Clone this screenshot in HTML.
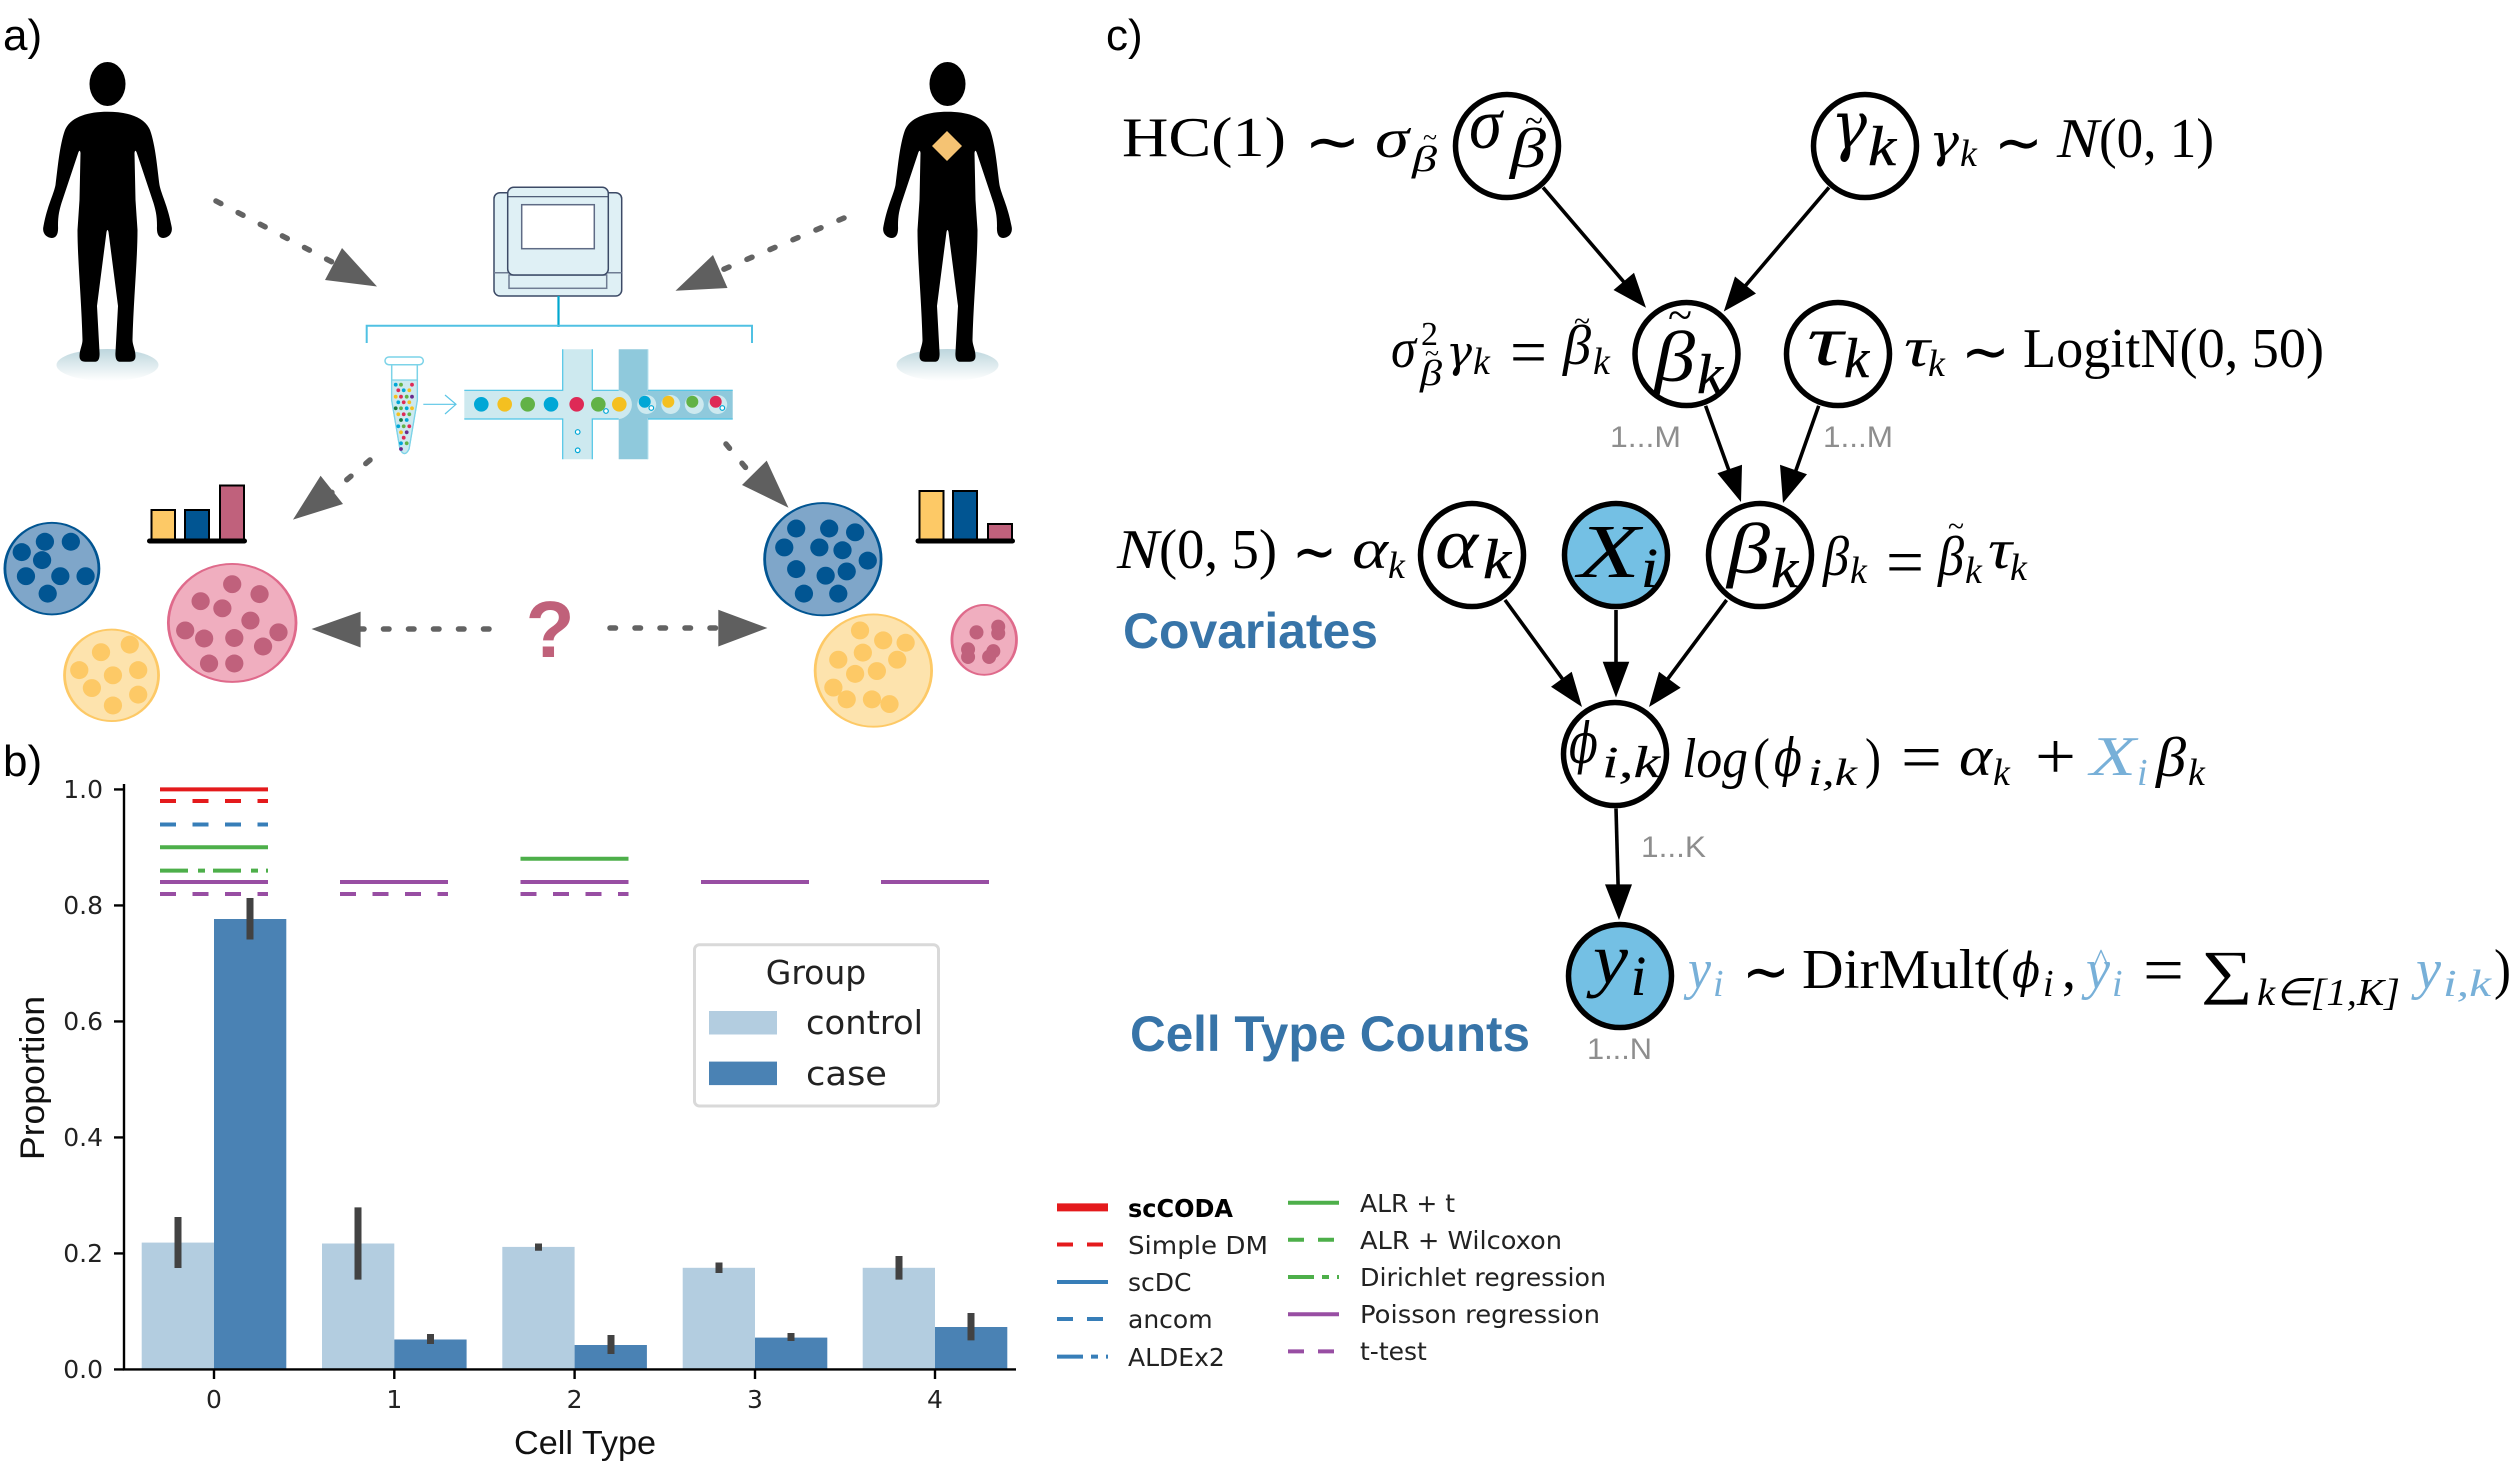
<!DOCTYPE html>
<html><head><meta charset="utf-8"><title>scCODA</title>
<style>
html,body{margin:0;padding:0;background:#fff;width:2520px;height:1475px;overflow:hidden}
svg{display:block}
text{fill:#000;white-space:pre}
.h{font-family:"Liberation Sans",sans-serif;font-size:44px}
.d{font-family:"DejaVu Sans",sans-serif;font-size:25px;fill:#222}
.m{font-family:"Liberation Serif",serif;font-size:56px}
.i{font-family:"Liberation Serif",serif;font-style:italic;font-size:56px}
.s{font-family:"Liberation Serif",serif;font-style:italic;font-size:38px}
.n{font-family:"Liberation Serif",serif;font-style:italic;font-size:72px}
.ns{font-family:"Liberation Serif",serif;font-style:italic;font-size:56px;stroke:#000;stroke-width:.5}
.dv{font-family:"DejaVu Serif","Liberation Serif",serif;font-style:italic}
.op{font-family:"DejaVu Sans",sans-serif;font-size:60px}
.eq{font-family:"Liberation Serif",serif;font-size:66px}
.g{font-family:"Liberation Sans",sans-serif;font-size:30px;fill:#8e8e8e}
.t{font-family:"Liberation Sans",sans-serif;font-weight:bold;font-size:50px;fill:#3774a8}
.nd{stroke:#000;stroke-width:5.5;fill:#fff}
.ar line{stroke:#000;stroke-width:3.6}
.lk{stroke:#636363;stroke-width:5.5;stroke-linecap:round;stroke-dasharray:5.5 19.5;fill:none}
.ah{fill:#5f5f5f}
</style></head><body>
<svg width="2520" height="1475" viewBox="0 0 2520 1475" xmlns="http://www.w3.org/2000/svg">
<defs>
<linearGradient id="gr" x1="0" y1="0" x2="0" y2="1"><stop offset="0" stop-color="#bdd6dd"/><stop offset="1" stop-color="#ffffff"/></linearGradient>
<g id="p">
<ellipse cx="0" cy="365" rx="51" ry="16" fill="url(#gr)"/>
<ellipse cx="0" cy="84" rx="18" ry="22"/>
<path d="M0,111.7C20,111.7 37,117 42.5,130C48,145 50,170 52,185C54,195 60,205 64,226C66,234 60,238 56,238C51,238 49,234 49.5,226C49.5,215 48,210 46,203L29,152Q27.5,149 27,153L28,200L30,230C30,260 26,300 25,340C25,345 28,350 28,356C28,360 26,361.7 22,361.7L12,361.7C9,361.7 7.5,358 8,352L10.5,306L1,232Q0,228 -1,232L-10.5,306L-8,352C-7.5,358 -9,361.7 -12,361.7L-22,361.7C-26,361.7 -28,360 -28,356C-28,350 -25,345 -25,340C-26,300 -30,260 -30,230L-28,200L-27,153Q-27.5,149 -29,152L-46,203C-48,210 -49.5,215 -49.5,226C-49,234 -51,238 -56,238C-60,238 -66,234 -64,226C-60,205 -54,195 -52,185C-50,170 -48,145 -42.5,130C-37,117 -20,111.7 0,111.7Z"/>
</g>
<ellipse id="bd" rx="13" ry="19" fill="#015592"/>
<ellipse id="pd" rx="13" ry="19" fill="#c0617c"/>
<ellipse id="yd" rx="13" ry="19" fill="#fdc966"/>
<ellipse id="pb" rx="10" ry="15" fill="#c0617c"/>
<circle id="c" r="7.3"/>
</defs>

<!-- a) -->
<text class="h" x="3" y="50">a)</text>
<use href="#p" x="107.5"/>
<use href="#p" x="947.5"/>
<path d="M947 131L962 146L947 161L932 146Z" fill="#f5c373"/>

<!-- machine -->
<rect x="494" y="192.7" width="127.7" height="103.3" rx="6" fill="#dff0f5" stroke="#3c4a66" stroke-width="1.5"/>
<path d="M494 272.7H621.7" stroke="#6f7c93" stroke-width="1.5"/>
<rect x="509" y="275" width="97.7" height="13.3" fill="#dff0f5" stroke="#6f7c93" stroke-width="1.5"/>
<rect x="507.7" y="187.3" width="100.6" height="87.7" rx="6" fill="#dff0f5" stroke="#3c4a66" stroke-width="1.5"/>
<path d="M507.7 196.7H608.3" stroke="#3c4a66" stroke-width="1.2"/>
<rect x="521.7" y="204.7" width="72.6" height="44" fill="#fff" stroke="#5f6b85" stroke-width="1.5"/>
<path d="M558.5 296V327" stroke="#00a7cf" stroke-width="2.2"/>
<path d="M366.7 343V325.7H752V343" fill="none" stroke="#50c1e3" stroke-width="2"/>
<!-- tube -->
<path d="M391.7 364.7V380L391.7 400L400 449Q404.5 458 409 449L417.3 400V364.7" fill="#fff" stroke="#7cd3e8" stroke-width="1.5"/>
<path d="M391.7 380H417.3V400L409 449Q404.5 458 400 449L391.7 400Z" fill="#cde9ef" stroke="#7cd3e8" stroke-width="1.2"/>
<rect x="385" y="357" width="38.3" height="7.7" rx="3.8" fill="#fff" stroke="#7cd3e8" stroke-width="1.5"/>
<g>
<g fill="#00a7d6"><circle cx="395.7" cy="384.7" r="1.9"/><circle cx="403.7" cy="390.3" r="1.9"/><circle cx="398.3" cy="402.3" r="1.9"/><circle cx="406.7" cy="408.3" r="1.9"/><circle cx="406.7" cy="420" r="1.9"/><circle cx="398.3" cy="426.3" r="1.9"/><circle cx="401" cy="443.3" r="1.9"/></g>
<g fill="#62b246"><circle cx="401" cy="384.7" r="1.9"/><circle cx="406.7" cy="396.7" r="1.9"/><circle cx="401" cy="408.3" r="1.9"/><circle cx="409.3" cy="414.3" r="1.9"/><circle cx="403.7" cy="426.3" r="1.9"/><circle cx="406.7" cy="443.3" r="1.9"/></g>
<g fill="#de2a56"><circle cx="412" cy="384.7" r="1.9"/><circle cx="398.3" cy="390.3" r="1.9"/><circle cx="401" cy="396.7" r="1.9"/><circle cx="403.7" cy="402.3" r="1.9"/><circle cx="403.7" cy="414.3" r="1.9"/><circle cx="409.3" cy="426.3" r="1.9"/><circle cx="403.7" cy="437.7" r="1.9"/></g>
<g fill="#f4c020"><circle cx="409.3" cy="390.3" r="1.9"/><circle cx="395.7" cy="396.7" r="1.9"/><circle cx="409.3" cy="402.3" r="1.9"/><circle cx="412" cy="408.3" r="1.9"/><circle cx="398.3" cy="414.3" r="1.9"/><circle cx="401" cy="432.3" r="1.9"/></g>
<g fill="#6a2a8c"><circle cx="412" cy="396.7" r="1.9"/><circle cx="406.7" cy="432.3" r="1.9"/><circle cx="401" cy="449" r="1.9"/></g>
<g fill="#1a7a3a"><circle cx="395.7" cy="408.3" r="1.9"/><circle cx="401" cy="420" r="1.9"/></g>
</g>
<path d="M423.3 404.3H455M445 395L456 404.3L445 414" fill="none" stroke="#5cc6e6" stroke-width="1.2"/>
<!-- chip -->
<path d="M618.7 349.3H648V390.3H732.7V419H648V459.3H618.7Z" fill="#8fc9dc"/>
<path d="M648 349.3V390.3H732.7M732.7 419H648V459.3" fill="none" stroke="#b9e3ef" stroke-width="1"/>
<path d="M464.3 390.3H562.7V349.3H592.3V390.3H618.7A14.4 14.4 0 0 1 618.7 419H592.3V459.3H562.7V419H464.3Z" fill="#cde9ef"/>
<path d="M464.3 390.3H562.7V349.3M592.3 349.3V390.3H618.7M464.3 419H562.7V459.3M592.3 459.3V419H618.7" fill="none" stroke="#4cc4e6" stroke-width="1.2"/>
<path d="M648 390.3H732.7M648 419H732.7" stroke="#4cc4e6" stroke-width="1.2"/>
<g fill="#cde9ef"><circle cx="646.7" cy="404.5" r="9.5"/><circle cx="670.7" cy="404.5" r="9.5"/><circle cx="694.3" cy="404.5" r="9.5"/><circle cx="717.7" cy="404.5" r="9.5"/></g>
<use href="#c" x="481.3" y="404.3" fill="#00a7d6"/><use href="#c" x="504.7" y="404.3" fill="#f4c020"/><use href="#c" x="527.7" y="404.3" fill="#62b246"/><use href="#c" x="551" y="404.3" fill="#00a7d6"/><use href="#c" x="576.7" y="404.3" fill="#de2a56"/><use href="#c" x="598.3" y="404.3" fill="#62b246"/><use href="#c" x="619.3" y="404.3" fill="#f4c020"/>
<circle cx="644.7" cy="401.7" r="6" fill="#00a7d6"/><circle cx="668.3" cy="401.7" r="6" fill="#f4c020"/><circle cx="692.3" cy="401.7" r="6" fill="#62b246"/><circle cx="715.7" cy="401.7" r="6" fill="#de2a56"/>
<g fill="#fff" stroke="#00a7d6" stroke-width="1.2"><circle cx="606" cy="411" r="2.3"/><circle cx="651.3" cy="408" r="2.3"/><circle cx="722.3" cy="408" r="2.3"/><circle cx="577.7" cy="432" r="2.3"/><circle cx="577.7" cy="450.3" r="2.3"/></g>

<!-- dotted arrows -->
<path class="lk" d="M216 201L332 262"/><path class="ah" d="M342 248L377 286.5L325 280Z"/>
<path class="lk" d="M844 218L722 270"/><path class="ah" d="M713 255L727.5 288L675.5 290.7Z"/>
<path class="lk" d="M370 460L330 494"/><path class="ah" d="M320.6 475.7L343 504L293 519.6Z"/>
<path class="lk" d="M726 444L746 468"/><path class="ah" d="M766.7 460.6L788.5 507.8L742 485Z"/>
<path class="lk" d="M489 629H360"/><path class="ah" d="M360.6 611.6L311.5 629L360.6 647.5Z"/>
<path class="lk" d="M610 628H718"/><path class="ah" d="M718.3 609.7L767.4 628L718.3 646.5Z"/>
<text x="550" y="657" text-anchor="middle" font-family="Liberation Sans" font-weight="bold" font-size="80" style="fill:#c0617a">?</text>

<!-- mini bars -->
<g stroke="#000" stroke-width="2">
<rect x="151.5" y="510" width="23.5" height="30" fill="#fdc966"/><rect x="185" y="510" width="24" height="30" fill="#015592"/><rect x="220" y="485.5" width="24" height="54.5" fill="#c0617c"/>
<rect x="919.5" y="491" width="24" height="49" fill="#fdc966"/><rect x="953" y="491" width="24" height="49" fill="#015592"/><rect x="988" y="524" width="24" height="16" fill="#c0617c"/>
</g>
<rect x="147" y="538.5" width="100" height="5" rx="2.5"/><rect x="915.5" y="538.5" width="99.5" height="5" rx="2.5"/>

<!-- cells -->
<g transform="scale(.7015 .4719)">
<ellipse cx="74" cy="1205" rx="67" ry="97" fill="#7fa6c9" stroke="#015592" stroke-width="4"/>
<use href="#bd" x="64" y="1148"/><use href="#bd" x="101" y="1148"/><use href="#bd" x="31" y="1170"/><use href="#bd" x="60" y="1187"/><use href="#bd" x="37" y="1221"/><use href="#bd" x="86" y="1221"/><use href="#bd" x="122" y="1221"/><use href="#bd" x="68" y="1258"/>
<ellipse cx="159" cy="1431" rx="67" ry="97" fill="#fde3ad" stroke="#fdc966" stroke-width="4"/>
<use href="#yd" x="144" y="1382"/><use href="#yd" x="185" y="1366"/><use href="#yd" x="113" y="1420"/><use href="#yd" x="197" y="1420"/><use href="#yd" x="161" y="1431"/><use href="#yd" x="131" y="1458"/><use href="#yd" x="197" y="1472"/><use href="#yd" x="161" y="1495"/>
<ellipse cx="331" cy="1320" rx="91" ry="125" fill="#f0aebf" stroke="#df6a8b" stroke-width="4"/>
<use href="#pd" x="331" y="1238"/><use href="#pd" x="370" y="1259"/><use href="#pd" x="286" y="1274"/><use href="#pd" x="317" y="1289"/><use href="#pd" x="357" y="1315"/><use href="#pd" x="264" y="1336"/><use href="#pd" x="397" y="1340"/><use href="#pd" x="291" y="1353"/><use href="#pd" x="334" y="1352"/><use href="#pd" x="375" y="1370"/><use href="#pd" x="298" y="1406"/><use href="#pd" x="334" y="1406"/>
<ellipse cx="1173" cy="1185" rx="83" ry="119" fill="#7fa6c9" stroke="#015592" stroke-width="4"/>
<use href="#bd" x="1135" y="1120"/><use href="#bd" x="1182" y="1120"/><use href="#bd" x="1219" y="1128"/><use href="#bd" x="1118" y="1160"/><use href="#bd" x="1168" y="1160"/><use href="#bd" x="1201" y="1166"/><use href="#bd" x="1237" y="1188"/><use href="#bd" x="1135" y="1206"/><use href="#bd" x="1177" y="1220"/><use href="#bd" x="1207" y="1211"/><use href="#bd" x="1146" y="1258"/><use href="#bd" x="1195" y="1258"/>
<ellipse cx="1245" cy="1421" rx="83" ry="119" fill="#fde3ad" stroke="#fdc966" stroke-width="4"/>
<use href="#yd" x="1226" y="1336"/><use href="#yd" x="1259" y="1357"/><use href="#yd" x="1291" y="1362"/><use href="#yd" x="1230" y="1383"/><use href="#yd" x="1195" y="1398"/><use href="#yd" x="1279" y="1398"/><use href="#yd" x="1219" y="1428"/><use href="#yd" x="1250" y="1422"/><use href="#yd" x="1188" y="1457"/><use href="#yd" x="1207" y="1482"/><use href="#yd" x="1243" y="1482"/><use href="#yd" x="1268" y="1492"/>
<ellipse cx="1403" cy="1356" rx="46" ry="74" fill="#f0aebf" stroke="#df6a8b" stroke-width="4"/>
<use href="#pb" x="1423" y="1328"/><use href="#pb" x="1423" y="1342"/><use href="#pb" x="1392" y="1340"/><use href="#pb" x="1380" y="1376"/><use href="#pb" x="1380" y="1392"/><use href="#pb" x="1416" y="1380"/><use href="#pb" x="1410" y="1392"/>
</g>

<!-- b) chart -->
<text class="h" x="3" y="776">b)</text>
<g fill="#b3cde0"><rect x="141.7" y="1242.6" width="72.3" height="126.8"/><rect x="322" y="1243.5" width="72.3" height="125.9"/><rect x="502.3" y="1246.9" width="72.3" height="122.5"/><rect x="682.7" y="1267.8" width="72.3" height="101.6"/><rect x="862.7" y="1267.8" width="72.3" height="101.6"/></g>
<g fill="#4a82b4"><rect x="214" y="919" width="72.3" height="450.4"/><rect x="394.3" y="1339.5" width="72.3" height="29.9"/><rect x="574.6" y="1345" width="72.3" height="24.4"/><rect x="755" y="1337.6" width="72.3" height="31.8"/><rect x="935" y="1327" width="72.3" height="42.4"/></g>
<g stroke="#424242" stroke-width="7"><path d="M178 1217V1268M250 898V939.5M358 1207.4V1279.6M430.5 1334V1344M538.5 1243.5V1250.7M611 1335V1354M719 1262.5V1273M791 1333V1341M899 1256V1279.6M971 1313V1340.4"/></g>
<path d="M124 784V1369.4H1016" fill="none" stroke="#000" stroke-width="2.4"/>
<path d="M114 1369.4H124M114 1253.4H124M114 1137.4H124M114 1021.4H124M114 905.4H124M114 789.4H124M214 1369.4V1379M394.3 1369.4V1379M574.6 1369.4V1379M755 1369.4V1379M935 1369.4V1379" stroke="#000" stroke-width="2.4"/>
<text class="d" x="103" y="1378" text-anchor="end">0.0</text><text class="d" x="103" y="1262" text-anchor="end">0.2</text><text class="d" x="103" y="1146" text-anchor="end">0.4</text><text class="d" x="103" y="1030" text-anchor="end">0.6</text><text class="d" x="103" y="914" text-anchor="end">0.8</text><text class="d" x="103" y="798" text-anchor="end">1.0</text>
<text class="d" x="214" y="1408" text-anchor="middle">0</text><text class="d" x="394.3" y="1408" text-anchor="middle">1</text><text class="d" x="574.6" y="1408" text-anchor="middle">2</text><text class="d" x="755" y="1408" text-anchor="middle">3</text><text class="d" x="935" y="1408" text-anchor="middle">4</text>
<text x="585" y="1454" text-anchor="middle" font-family="Liberation Sans" font-size="33" textLength="142" lengthAdjust="spacingAndGlyphs" style="fill:#111">Cell Type</text>
<text transform="translate(44 1078) rotate(-90)" text-anchor="middle" font-family="Liberation Sans" font-size="34" textLength="164" lengthAdjust="spacingAndGlyphs" style="fill:#111">Proportion</text>
<g fill="none" stroke-width="4">
<path d="M160 789.4H268" stroke="#e41a1c"/>
<path d="M160 801H268" stroke="#e41a1c" stroke-dasharray="16 16.5"/>
<path d="M160 824.5H268" stroke="#377eb8" stroke-dasharray="16 16.5"/>
<path d="M160 847.3H268M520.5 858.7H628.5" stroke="#4daf4a"/>
<path d="M160 870.6H268" stroke="#4daf4a" stroke-dasharray="28 10 7 8"/>
<path d="M160 882H268M340 882H448M520.5 882H628.5M701 882H809M881 882H989" stroke="#984ea3"/>
<path d="M160 894H268" stroke="#984ea3" stroke-dasharray="16 16.5"/>
<path d="M340 894H448M520.5 894H628.5" stroke="#984ea3" stroke-dasharray="16 16.5"/>
</g>
<rect x="694.5" y="944.7" width="244" height="161.3" rx="5" fill="#fff" stroke="#d9d9d9" stroke-width="3"/>
<rect x="709" y="1011" width="68" height="23.5" fill="#b3cde0"/><rect x="709" y="1061.6" width="68" height="23.5" fill="#4a82b4"/>
<text x="816" y="984" text-anchor="middle" font-family="DejaVu Sans" font-size="33" style="fill:#222">Group</text>
<text x="806" y="1034" font-family="DejaVu Sans" font-size="33" textLength="117" lengthAdjust="spacingAndGlyphs" style="fill:#222">control</text>
<text x="806" y="1085" font-family="DejaVu Sans" font-size="33" textLength="81" lengthAdjust="spacingAndGlyphs" style="fill:#222">case</text>

<!-- method legend -->
<g fill="none">
<path d="M1057 1207.4H1108" stroke="#e41a1c" stroke-width="8"/>
<path d="M1057 1244.5H1108" stroke="#e41a1c" stroke-width="4" stroke-dasharray="16 14"/>
<path d="M1057 1282H1108" stroke="#377eb8" stroke-width="4"/>
<path d="M1057 1319H1108" stroke="#377eb8" stroke-width="4" stroke-dasharray="16 14"/>
<path d="M1057 1356.6H1108" stroke="#377eb8" stroke-width="4" stroke-dasharray="26 8 7 8"/>
<path d="M1288 1202.7H1339" stroke="#4daf4a" stroke-width="4"/>
<path d="M1288 1239.7H1339" stroke="#4daf4a" stroke-width="4" stroke-dasharray="16 14"/>
<path d="M1288 1277H1339" stroke="#4daf4a" stroke-width="4" stroke-dasharray="26 8 7 8"/>
<path d="M1288 1314.3H1339" stroke="#984ea3" stroke-width="4"/>
<path d="M1288 1351.4H1339" stroke="#984ea3" stroke-width="4" stroke-dasharray="16 14"/>
</g>
<text class="d" x="1128" y="1217" style="font-weight:bold;fill:#000" textLength="105" lengthAdjust="spacingAndGlyphs">scCODA</text>
<text class="d" x="1128" y="1254" textLength="140" lengthAdjust="spacingAndGlyphs">Simple DM</text>
<text class="d" x="1128" y="1291">scDC</text>
<text class="d" x="1128" y="1328">ancom</text>
<text class="d" x="1128" y="1366">ALDEx2</text>
<text class="d" x="1360" y="1212">ALR + t</text>
<text class="d" x="1360" y="1249" textLength="202" lengthAdjust="spacingAndGlyphs">ALR + Wilcoxon</text>
<text class="d" x="1360" y="1286" textLength="246" lengthAdjust="spacingAndGlyphs">Dirichlet regression</text>
<text class="d" x="1360" y="1323" textLength="240" lengthAdjust="spacingAndGlyphs">Poisson regression</text>
<text class="d" x="1360" y="1360">t-test</text>

<!-- c) -->
<text class="h" x="1106" y="50">c)</text>
<!-- arrows -->
<g class="ar">
<line x1="1543" y1="187.4" x2="1635" y2="295"/><line x1="1829" y1="187.4" x2="1735" y2="298"/>
<line x1="1705.6" y1="405.8" x2="1736" y2="490"/><line x1="1818.7" y1="405.8" x2="1789" y2="490"/>
<line x1="1505" y1="600" x2="1572" y2="692"/><line x1="1616" y1="610" x2="1616" y2="680"/><line x1="1726.6" y1="600" x2="1658" y2="692"/>
<line x1="1616" y1="808.4" x2="1618.5" y2="900"/>
</g>
<path d="M1646 307.7L1613.5 290L1634 272.8Z M1723.8 311.5L1735 276.5L1756 293.5Z M1741 502L1717.4 473.3L1742 464.8Z M1783 503L1780 464.8L1807 474.3Z M1582 707L1551 686.7L1571.7 671.7Z M1616 697.5L1602.7 661.7L1629.3 661.7Z M1649 707L1659 671.7L1680.7 687.7Z M1619 920L1605 884.4L1632 884.4Z"/>
<!-- nodes -->
<circle class="nd" cx="1507" cy="146" r="51.5"/><circle class="nd" cx="1865" cy="146" r="51.5"/><circle class="nd" cx="1686.5" cy="354" r="51.5"/><circle class="nd" cx="1838" cy="354" r="51.5"/><circle class="nd" cx="1472" cy="555" r="51.5"/><circle class="nd" cx="1616" cy="555" r="51.5" style="fill:#74c0e4"/><circle class="nd" cx="1760" cy="555" r="51.5"/><circle class="nd" cx="1615" cy="754" r="51.5"/><circle class="nd" cx="1620" cy="976" r="51.5" style="fill:#74c0e4"/>
<!-- node labels -->
<text class="n" x="1469" y="148" textLength="33" lengthAdjust="spacingAndGlyphs">σ</text>
<text class="i" x="1510" y="167" textLength="36" lengthAdjust="spacingAndGlyphs">β</text><text class="m" x="1525" y="132" style="font-size:34px" textLength="18" lengthAdjust="spacingAndGlyphs">~</text>
<text class="dv" x="1831" y="148" font-size="66" textLength="36" lengthAdjust="spacingAndGlyphs">γ</text><text class="ns" x="1868" y="165" textLength="28" lengthAdjust="spacingAndGlyphs">k</text>
<text class="n" x="1654" y="381" font-size="76" textLength="41" lengthAdjust="spacingAndGlyphs">β</text><text class="m" x="1668" y="330" style="font-size:46px" textLength="24" lengthAdjust="spacingAndGlyphs">~</text><text class="ns" x="1697" y="393" textLength="26" lengthAdjust="spacingAndGlyphs">k</text>
<text class="n" x="1807" y="365" textLength="36" lengthAdjust="spacingAndGlyphs">τ</text><text class="ns" x="1844" y="377" textLength="25" lengthAdjust="spacingAndGlyphs">k</text>
<text class="n" x="1435" y="568" textLength="43" lengthAdjust="spacingAndGlyphs">α</text><text class="ns" x="1483" y="578" textLength="28" lengthAdjust="spacingAndGlyphs">k</text>
<text class="n" x="1578" y="577" textLength="62" lengthAdjust="spacingAndGlyphs" style="font-size:76px">X</text><text class="ns" x="1641" y="587" textLength="17" lengthAdjust="spacingAndGlyphs">i</text>
<text class="n" x="1727" y="573" textLength="43" lengthAdjust="spacingAndGlyphs">β</text><text class="ns" x="1771" y="587" textLength="27" lengthAdjust="spacingAndGlyphs">k</text>
<text class="dv" x="1569" y="763" font-size="56" textLength="29" lengthAdjust="spacingAndGlyphs">ϕ</text><text class="s" x="1602" y="777" style="font-size:44px;stroke:#000;stroke-width:.2" textLength="58" lengthAdjust="spacingAndGlyphs">i,k</text>
<text class="n" x="1593" y="983" textLength="35" lengthAdjust="spacingAndGlyphs">y</text><text class="ns" x="1631" y="995" textLength="15" lengthAdjust="spacingAndGlyphs">i</text>

<!-- equations -->
<text class="m" x="1122" y="156" textLength="164" lengthAdjust="spacingAndGlyphs">HC(1)</text>
<text class="op" x="1304" y="162" textLength="57" lengthAdjust="spacingAndGlyphs">∼</text>
<text class="i" x="1375" y="157" textLength="34" lengthAdjust="spacingAndGlyphs">σ</text>
<text class="s" x="1412" y="171" style="font-size:36px" textLength="25" lengthAdjust="spacingAndGlyphs">β</text><text class="m" x="1423" y="146" style="font-size:26px" textLength="14" lengthAdjust="spacingAndGlyphs">~</text>
<text class="dv" x="1929" y="157" font-size="46" textLength="30" lengthAdjust="spacingAndGlyphs">γ</text><text class="s" x="1960" y="166">k</text>
<text class="op" x="1994" y="163" textLength="49" lengthAdjust="spacingAndGlyphs">∼</text>
<text class="i" x="2057" y="157" textLength="42" lengthAdjust="spacingAndGlyphs">N</text><text class="m" x="2099" y="157" textLength="115" lengthAdjust="spacingAndGlyphs">(0, 1)</text>

<text class="i" x="1391" y="367" textLength="25" lengthAdjust="spacingAndGlyphs">σ</text>
<text class="m" x="1421" y="345" style="font-size:34px" textLength="17" lengthAdjust="spacingAndGlyphs">2</text>
<text class="s" x="1420" y="385" textLength="22" lengthAdjust="spacingAndGlyphs" style="font-size:36px">β</text><text class="m" x="1425" y="362" style="font-size:26px" textLength="14" lengthAdjust="spacingAndGlyphs">~</text>
<text class="dv" x="1446" y="367" font-size="44" textLength="26" lengthAdjust="spacingAndGlyphs">γ</text><text class="s" x="1473" y="374">k</text>
<text class="eq" x="1510" y="374" textLength="37" lengthAdjust="spacingAndGlyphs">=</text>
<text class="i" x="1563" y="364" textLength="28" lengthAdjust="spacingAndGlyphs">β</text><text class="m" x="1574" y="331" style="font-size:30px" textLength="16" lengthAdjust="spacingAndGlyphs">~</text><text class="s" x="1593" y="374">k</text>
<text class="i" x="1904" y="366" textLength="26" lengthAdjust="spacingAndGlyphs">τ</text><text class="s" x="1928" y="376">k</text>
<text class="op" x="1961" y="372" textLength="49" lengthAdjust="spacingAndGlyphs">∼</text>
<text class="m" x="2023" y="367" textLength="301" lengthAdjust="spacingAndGlyphs">LogitN(0, 50)</text>

<text class="i" x="1117" y="568" textLength="42" lengthAdjust="spacingAndGlyphs">N</text><text class="m" x="1159" y="568" textLength="118" lengthAdjust="spacingAndGlyphs">(0, 5)</text>
<text class="op" x="1292" y="572" textLength="45" lengthAdjust="spacingAndGlyphs">∼</text>
<text class="i" x="1352" y="568" textLength="36" lengthAdjust="spacingAndGlyphs">α</text><text class="s" x="1388" y="578">k</text>
<text class="i" x="1823" y="575" textLength="26" lengthAdjust="spacingAndGlyphs">β</text><text class="s" x="1850" y="583">k</text>
<text class="eq" x="1886" y="584" textLength="38" lengthAdjust="spacingAndGlyphs">=</text>
<text class="i" x="1938" y="575" textLength="26" lengthAdjust="spacingAndGlyphs">β</text><text class="m" x="1948" y="536" style="font-size:30px" textLength="16" lengthAdjust="spacingAndGlyphs">~</text><text class="s" x="1965" y="583">k</text>
<text class="i" x="1988" y="568" textLength="24" lengthAdjust="spacingAndGlyphs">τ</text><text class="s" x="2010" y="580">k</text>
<text class="t" x="1123" y="648" textLength="255" lengthAdjust="spacingAndGlyphs">Covariates</text>

<text class="i" x="1682" y="777" textLength="66" lengthAdjust="spacingAndGlyphs">log</text><text class="m" x="1753" y="777" textLength="17" lengthAdjust="spacingAndGlyphs">(</text>
<text class="dv" x="1774" y="776" font-size="52" textLength="28" lengthAdjust="spacingAndGlyphs">ϕ</text><text class="s" x="1808" y="785" textLength="49" lengthAdjust="spacingAndGlyphs">i,k</text><text class="m" x="1865" y="777" textLength="16" lengthAdjust="spacingAndGlyphs">)</text>
<text class="eq" x="1901" y="779" textLength="41" lengthAdjust="spacingAndGlyphs">=</text>
<text class="i" x="1959" y="775" textLength="33" lengthAdjust="spacingAndGlyphs">α</text><text class="s" x="1993" y="785">k</text>
<text class="eq" x="2035" y="778" textLength="41" lengthAdjust="spacingAndGlyphs">+</text>
<text class="i" x="2090" y="775" textLength="46" lengthAdjust="spacingAndGlyphs" style="fill:#78b0d8">X</text><text class="s" x="2137" y="785" style="fill:#78b0d8">i</text>
<text class="i" x="2156" y="776" textLength="30" lengthAdjust="spacingAndGlyphs">β</text><text class="s" x="2188" y="785">k</text>

<text class="i" x="1688" y="988" textLength="23" lengthAdjust="spacingAndGlyphs" style="fill:#78b0d8">y</text><text class="s" x="1713" y="996" style="fill:#78b0d8">i</text>
<text class="op" x="1742" y="992" textLength="48" lengthAdjust="spacingAndGlyphs">∼</text>
<text class="m" x="1802" y="988" textLength="208" lengthAdjust="spacingAndGlyphs">DirMult(</text>
<text class="dv" x="2012" y="987" font-size="48" textLength="28" lengthAdjust="spacingAndGlyphs">ϕ</text><text class="s" x="2043" y="996">i</text><text class="m" x="2062" y="988">,</text>
<text class="i" x="2086" y="988" textLength="24" lengthAdjust="spacingAndGlyphs" style="fill:#78b0d8">y</text><text class="m" x="2093" y="972" style="font-size:34px;fill:#78b0d8" textLength="16" lengthAdjust="spacingAndGlyphs">^</text><text class="s" x="2112" y="996" style="fill:#78b0d8">i</text>
<text class="eq" x="2143" y="992" textLength="41" lengthAdjust="spacingAndGlyphs">=</text>
<text class="m" x="2201" y="992" style="font-size:60px" textLength="52" lengthAdjust="spacingAndGlyphs">∑</text>
<text class="s" x="2257" y="1005" textLength="143" lengthAdjust="spacingAndGlyphs">k∈[1,K]</text>
<text class="i" x="2416" y="988" textLength="25" lengthAdjust="spacingAndGlyphs" style="fill:#78b0d8">y</text><text class="s" x="2443" y="996" textLength="48" lengthAdjust="spacingAndGlyphs" style="fill:#78b0d8">i,k</text>
<text class="m" x="2494" y="988" textLength="17" lengthAdjust="spacingAndGlyphs">)</text>
<text class="t" x="1130" y="1051" textLength="400" lengthAdjust="spacingAndGlyphs">Cell Type Counts</text>

<text class="g" x="1610" y="447" textLength="71" lengthAdjust="spacingAndGlyphs">1...M</text>
<text class="g" x="1823" y="447" textLength="70" lengthAdjust="spacingAndGlyphs">1...M</text>
<text class="g" x="1641" y="857" textLength="65" lengthAdjust="spacingAndGlyphs">1...K</text>
<text class="g" x="1587" y="1059" textLength="65" lengthAdjust="spacingAndGlyphs">1...N</text>
</svg>
</body></html>
